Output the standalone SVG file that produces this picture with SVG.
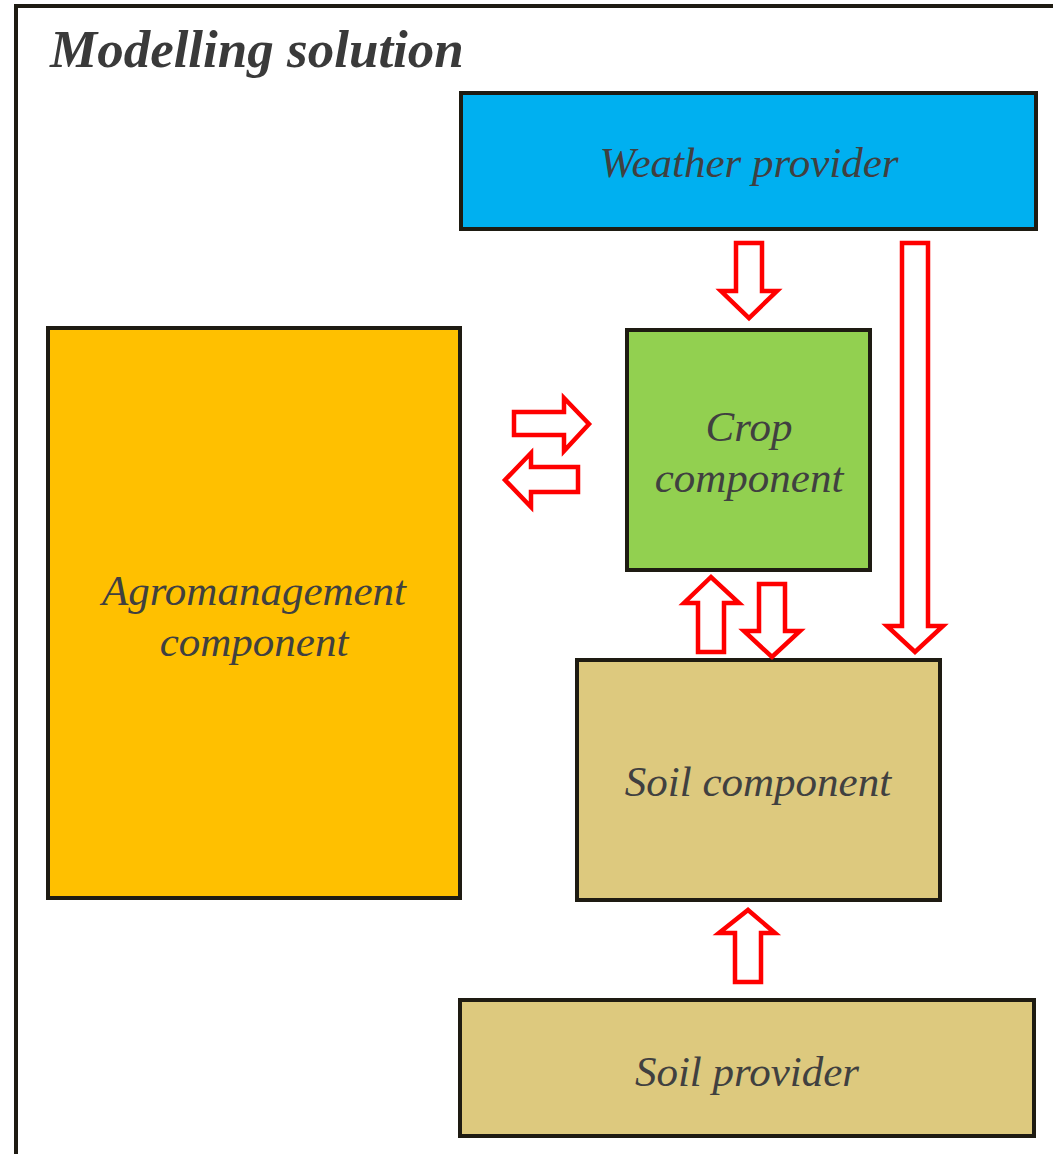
<svg xmlns="http://www.w3.org/2000/svg" width="1053" height="1154" viewBox="0 0 1053 1154">
  <style>
    .box { stroke: #1e1b12; stroke-width: 4; }
    .lbl { font-family: "Liberation Serif", "Times New Roman", serif; font-style: italic; font-size: 43px; fill: #404040; text-anchor: middle; }
    .title { font-family: "Liberation Serif", "Times New Roman", serif; font-style: italic; font-weight: bold; font-size: 53px; fill: #3a3a3a; }
    .arrow { fill: #ffffff; stroke: #ff0000; stroke-width: 4.5; stroke-linejoin: miter; }
  </style>
  <rect width="1053" height="1154" fill="#ffffff"/>

  <!-- outer container -->
  <g id="modelling-solution">
    <path d="M16 1154 V6 H1053" fill="none" stroke="#1e1b12" stroke-width="4"/>
    <text class="title" x="50" y="67">Modelling solution</text>
  </g>

  <g id="weather-provider">
    <rect class="box" x="461" y="93" width="575" height="136" fill="#00b0f0"/>
    <text class="lbl" x="749" y="177">Weather provider</text>
  </g>

  <g id="crop-component">
    <rect class="box" x="627" y="330" width="243" height="240" fill="#92d050"/>
    <text class="lbl" x="749" y="441">Crop</text>
    <text class="lbl" x="749" y="492">component</text>
  </g>

  <g id="agromanagement-component">
    <rect class="box" x="48" y="328" width="412" height="570" fill="#ffc000"/>
    <text class="lbl" x="254" y="605">Agromanagement</text>
    <text class="lbl" x="254" y="656">component</text>
  </g>

  <g id="soil-component">
    <rect class="box" x="577" y="660" width="363" height="240" fill="#ddc97e"/>
    <text class="lbl" x="758" y="796">Soil component</text>
  </g>

  <g id="soil-provider">
    <rect class="box" x="460" y="1000" width="574" height="136" fill="#ddc97e"/>
    <text class="lbl" x="747" y="1086">Soil provider</text>
  </g>

  <!-- block arrows between components -->
  <g id="connectors">
    <!-- weather -> crop -->
    <polygon class="arrow" points="736,243 762,243 762,291 777,291 749,318 721,291 736,291"/>
    <!-- weather -> soil -->
    <polygon class="arrow" points="902,243 928,243 928,626 943,626 915,652 887,626 902,626"/>
    <!-- agromanagement -> crop -->
    <polygon class="arrow" points="514,412 564,412 564,398 589,424 564,451 564,435 514,435"/>
    <!-- crop -> agromanagement -->
    <polygon class="arrow" points="578,467 531,467 531,453 505,480 531,507 531,492 578,492"/>
    <!-- soil -> crop -->
    <polygon class="arrow" points="698,652 724,652 724,603 739,603 711,577 684,603 698,603"/>
    <!-- crop -> soil -->
    <polygon class="arrow" points="759,584 785,584 785,631 800,631 772,657 744,631 759,631"/>
    <!-- soil provider -> soil -->
    <polygon class="arrow" points="735,982 761,982 761,933 775,933 748,910 719,933 735,933"/>
  </g>
</svg>
